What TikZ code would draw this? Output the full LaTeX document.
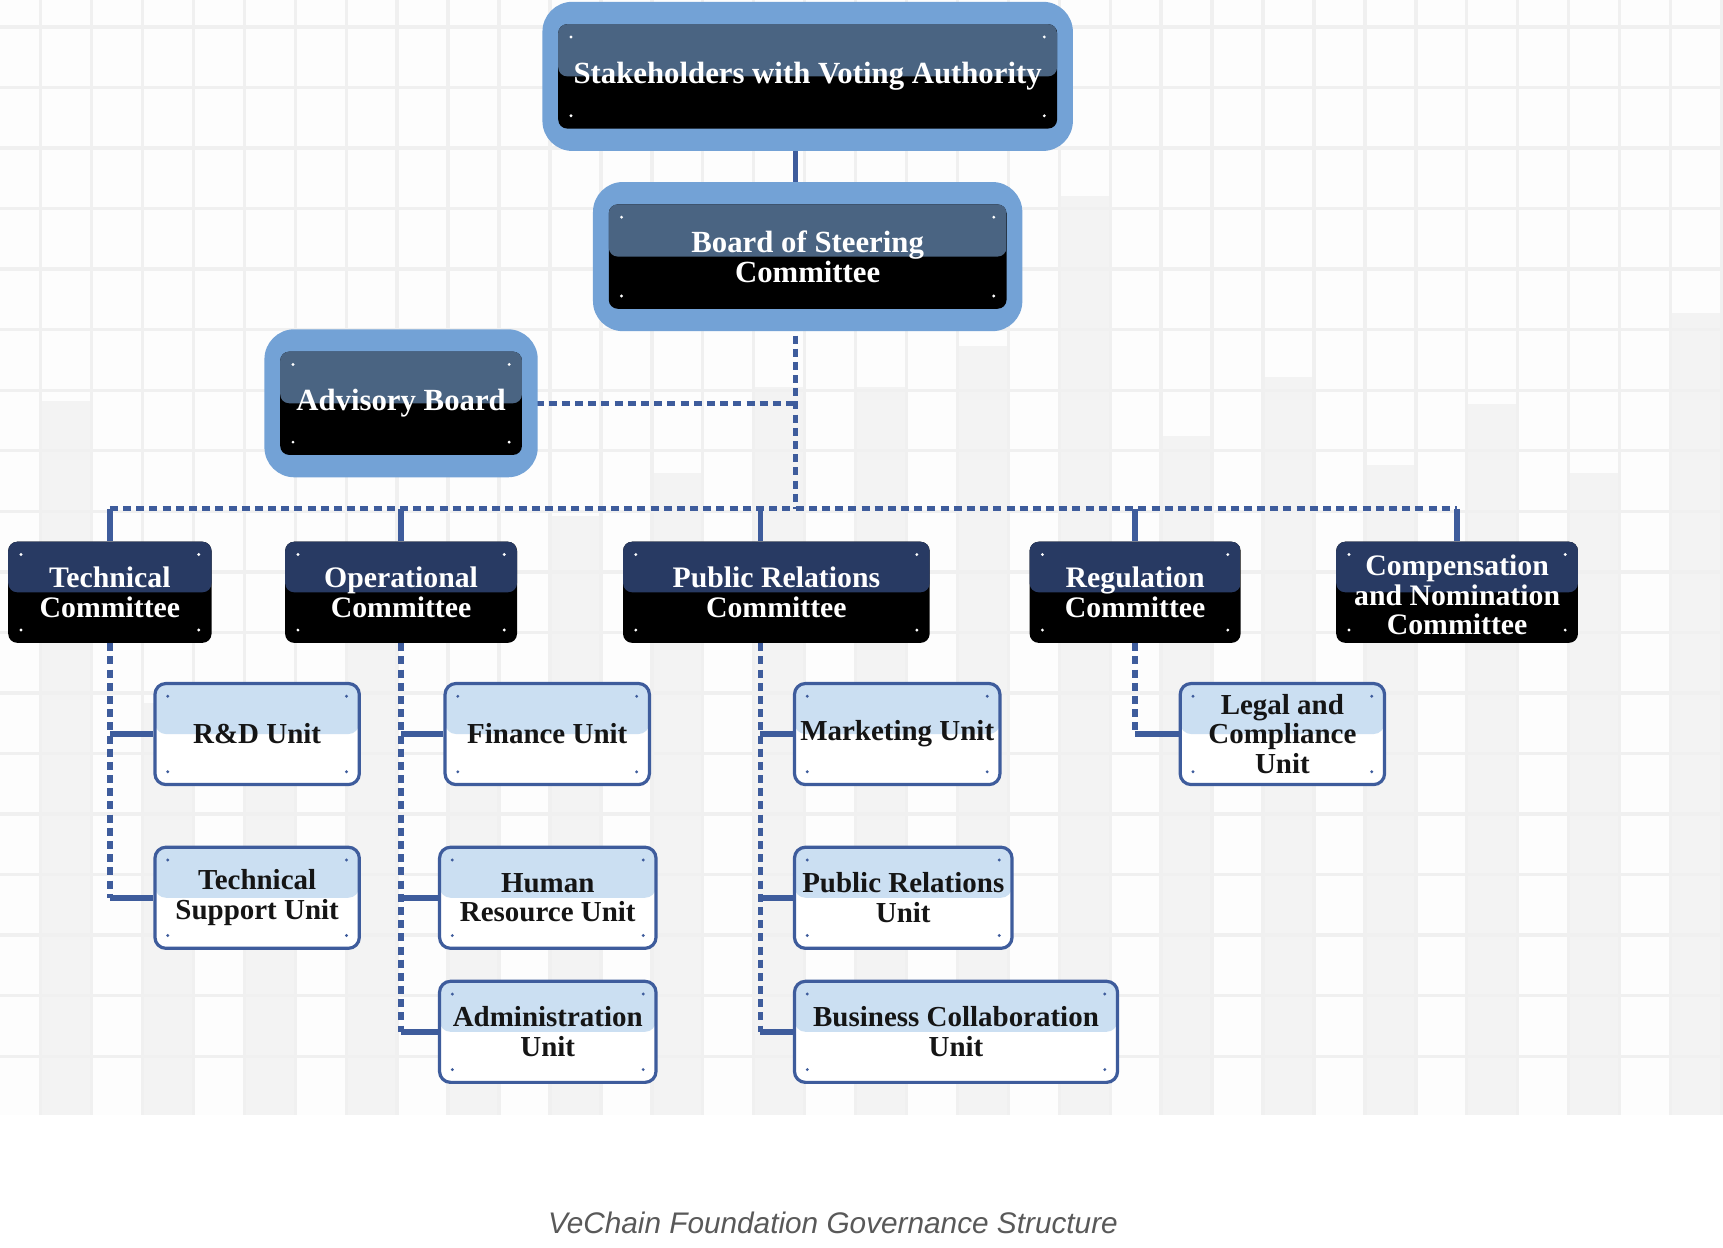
\documentclass[tikz,border=0pt]{standalone}
\usepackage{fontspec}
\newfontfamily\capfont{Liberation Sans}
\newfontfamily\govserif{Liberation Serif}
\definecolor{GovRing}{HTML}{73A2D6}
\definecolor{GovSlate}{HTML}{4A6482}
\definecolor{GovNavy}{HTML}{283A63}
\definecolor{GovUnit}{HTML}{CBDFF2}
\definecolor{GovLink}{HTML}{3E5C9C}
\definecolor{GovGrid}{HTML}{F0F0F0}
\definecolor{GovBar}{HTML}{F3F3F3}
\definecolor{GovCell}{HTML}{FDFDFD}
\definecolor{GovCaption}{HTML}{595959}
\definecolor{GovText}{HTML}{151515}
\pgfdeclarelayer{grid}
\pgfdeclarelayer{links}
\pgfsetlayers{grid,links,main}
\newcommand\gpx{0.55pt}
\newcommand\govtop{\govserif\bfseries\fontsize{15.4}{14.8}\selectfont}
\newcommand\govbold{\govserif\bfseries\fontsize{14.9}{14.8}\selectfont}
\newcommand\govunit{\govserif\bfseries\fontsize{14.5}{14.8}\selectfont}
\newcommand\govdots[1]{%
  \foreach \c/\sx/\sy in {north west/1/-1,north east/-1/-1,south west/1/1,south east/-1/1}
    \fill[#1] ([shift={(\sx*6.4pt,\sy*6.4pt)}]path picture bounding box.\c) circle (0.8pt);}
\tikzset{
  govbox/.style n args={3}{fill=#2, rounded corners=4.5pt, inner sep=0pt, align=center,
    path picture={\fill[#1] (path picture bounding box.north west) rectangle (path picture bounding box.east);
      \govdots{#3}}},
  topbox/.style={govbox={GovSlate}{black}{white}, text=white, font=\govtop, minimum height=95*\gpx},
  combox/.style={govbox={GovNavy}{black}{white}, text=white, font=\govbold, minimum height=92*\gpx},
  unitbox/.style={govbox={GovUnit}{white}{GovLink}, draw=GovLink, line width=1.6pt,
    rounded corners=5.5pt, text=GovText, font=\govunit, minimum height=92*\gpx},
  ring/.style={fill=GovRing, rounded corners=15pt},
  dotlink/.style={GovLink, line width=2.7pt, dash pattern=on 4pt off 2.6pt},
  solidlink/.style={GovLink, line width=2.8pt},
  gridline/.style={GovGrid, line width=1.7pt}
}
\begin{document}
\begin{tikzpicture}[x=\gpx,y=-\gpx]
  \useasboundingbox (0,0) rectangle (1568,1135);
  \begin{pgfonlayer}{grid}
    \fill[white] (0,0) rectangle (1568,1135);
    \begin{scope}
      \clip (0,0) rectangle (1568,1015);
      \fill[GovCell] (0,0) rectangle (1568,1015);
      \foreach \j/\t in {0/365,1/640,2/700,3/560,4/690,5/470,6/430,7/352,8/352,9/315,
                         10/178,11/397,12/343,13/423,14/368,15/430,16/285}
        \fill[GovBar] ({37+92.7*\j},\t) rectangle ({83.35+92.7*\j},1015);
      \foreach \k in {0,...,33}
        \draw[gridline] ({37+46.35*\k},0) -- ++(0,1015);
      \foreach \m in {0,...,17}
        \draw[gridline] (0,{24.5+55.1*\m}) -- ++(1568,0);
    \end{scope}
  \end{pgfonlayer}

  \node[topbox, minimum width=454*\gpx] (stake) at (735,69.5) {Stakeholders with Voting Authority};
  \node[topbox, minimum width=362*\gpx] (board) at (735,233.5) {Board of Steering\\Committee};
  \node[topbox, minimum width=220*\gpx, minimum height=94*\gpx] (adv) at (365,367) {Advisory Board};

  \node[combox, minimum width=185*\gpx] (tc) at (100,539) {Technical\\Committee};
  \node[combox, minimum width=211*\gpx] (oc) at (365,539) {Operational\\Committee};
  \node[combox, minimum width=279*\gpx] (prc) at (706.5,539) {Public Relations\\Committee};
  \node[combox, minimum width=192*\gpx] (rc) at (1033,539) {Regulation\\Committee};
  \node[combox, minimum width=220*\gpx] (cnc) at (1326,539) {\rule{0pt}{13pt}Compensation\\and Nomination\\Committee};

  \node[unitbox, minimum width=186*\gpx] (rd) at (234,668) {R\&D Unit};
  \node[unitbox, minimum width=186*\gpx] (tsu) at (234,817) {Technical\\Support Unit};
  \node[unitbox, minimum width=186*\gpx] (fin) at (498,668) {Finance Unit};
  \node[unitbox, minimum width=197*\gpx] (hr) at (498.5,817) {Human\\Resource Unit};
  \node[unitbox, minimum width=197*\gpx] (adm) at (498.5,939) {Administration\\Unit};
  \node[unitbox, minimum width=187*\gpx] (mkt) at (816.5,668) {Marketing Unit};
  \node[unitbox, minimum width=198*\gpx] (pru) at (822,817) {Public Relations\\Unit};
  \node[unitbox, minimum width=294*\gpx] (bc) at (870,939) {Business Collaboration\\Unit};
  \node[unitbox, minimum width=186*\gpx] (lc) at (1167,668) {Legal and\\Compliance\\Unit};

  \coordinate (trunk) at (724,463);
  \coordinate (prt) at (692,463);

  \begin{pgfonlayer}{links}
    \draw[solidlink] (stake.south -| trunk) -- (board.north -| trunk);
    \draw[dotlink] (board.south -| trunk) -- (trunk);
    \draw[dotlink] (adv.east) -- (adv.east -| trunk);
    \draw[dotlink] (tc.north |- trunk) -- (cnc.north |- trunk);
    \foreach \c in {tc,oc,rc,cnc}
      \draw[solidlink] (\c.north |- trunk) -- (\c.north);
    \draw[solidlink] (prt) -- (prt |- prc.north);

    \draw[dotlink] (tc.south) -- (tc.south |- tsu.west);
    \foreach \u in {rd,tsu}
      \draw[solidlink] (tc.south |- \u.west) -- (\u.west);
    \draw[dotlink] (oc.south) -- (oc.south |- adm.west);
    \foreach \u in {fin,hr,adm}
      \draw[solidlink] (oc.south |- \u.west) -- (\u.west);
    \draw[dotlink] (prt |- prc.south) -- (prt |- bc.west);
    \foreach \u in {mkt,pru,bc}
      \draw[solidlink] (prt |- \u.west) -- (\u.west);
    \draw[dotlink] (rc.south) -- (rc.south |- lc.west);
    \draw[solidlink] (rc.south |- lc.west) -- (lc.west);

    \foreach \b in {stake,board,adv}
      \fill[ring] ([shift={(-14*\gpx,20*\gpx)}]\b.north west) rectangle ([shift={(14*\gpx,-20*\gpx)}]\b.south east);
  \end{pgfonlayer}

  \node[font=\capfont\itshape\fontsize{14.9}{16}\selectfont, text=GovCaption] (caption) at (758,1113)
    {VeChain Foundation Governance Structure};
\end{tikzpicture}
\end{document}
